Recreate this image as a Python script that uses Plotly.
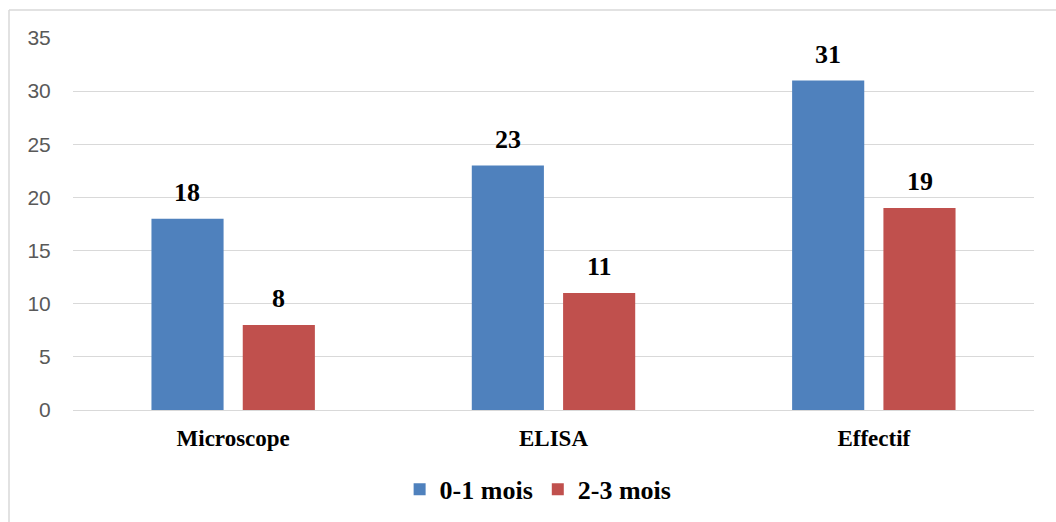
import plotly.graph_objects as go

# Data
categories = ["Microscope", "ELISA", "Effectif"]
series_names = ["0-1 mois", "2-3 mois"]
values_0_1 = [18, 23, 31]
values_2_3 = [8, 11, 19]
y_ticks = [0, 5, 10, 15, 20, 25, 30, 35]

colors = ["#4F81BD", "#C0504D"]
serif = "Liberation Serif"

fig = go.Figure()
for name, vals, col in zip(series_names, [values_0_1, values_2_3], colors):
    fig.add_trace(go.Bar(
        name=name, x=categories, y=vals,
        marker=dict(color=col, line=dict(width=0)),
    ))

# Value labels above each bar
group_offsets = [-45.75, 45.75]
annotations = []
for vals, dx in zip([values_0_1, values_2_3], group_offsets):
    for cat, v in zip(categories, vals):
        annotations.append(dict(
            x=cat, y=v, xref="x", yref="y", text=str(v),
            showarrow=False, xshift=dx, yanchor="bottom", yshift=10,
            font=dict(family=serif, size=26, color="#000000", weight="bold"),
        ))

# Outer frame (left and top edges visible)
frame_color = "#D9D9D9"
shapes = [
    dict(type="line", xref="paper", yref="paper", x0=-0.0666, x1=1.1, y0=1.0753, y1=1.0753,
         line=dict(color=frame_color, width=1.5)),
    dict(type="line", xref="paper", yref="paper", x0=-0.0666, x1=-0.0666, y0=-0.4, y1=1.0753,
         line=dict(color=frame_color, width=1.5)),
]

fig.update_layout(
    width=1056, height=522,
    font=dict(family=serif, color="#000000"),
    margin=dict(l=73, r=22, t=38, b=112, autoexpand=False),
    paper_bgcolor="white", plot_bgcolor="white",
    barmode="group", bargap=0.43, bargroupgap=0.21,
    showlegend=True,
    legend=dict(
        orientation="h", x=0.484, xanchor="center", y=-0.213, yanchor="middle",
        font=dict(family=serif, size=26, color="#000000", weight="bold"),
        itemwidth=30,
    ),
    annotations=annotations,
    shapes=shapes,
    xaxis=dict(
        showgrid=False, showline=False, ticks="", automargin=False,
        ticklabelstandoff=12,
        tickfont=dict(family=serif, size=23, color="#000000", weight="bold"),
    ),
    yaxis=dict(
        range=[0, 35], tickvals=y_ticks, showgrid=True, gridcolor="#D9D9D9", gridwidth=1,
        zeroline=True, zerolinecolor="#D9D9D9", zerolinewidth=1, automargin=False,
        showline=False, ticks="outside", ticklen=17, tickcolor="rgba(0,0,0,0)",
        tickfont=dict(family="Liberation Sans", size=21, color="#595959"),
    ),
)

fig.write_html("out.html")
